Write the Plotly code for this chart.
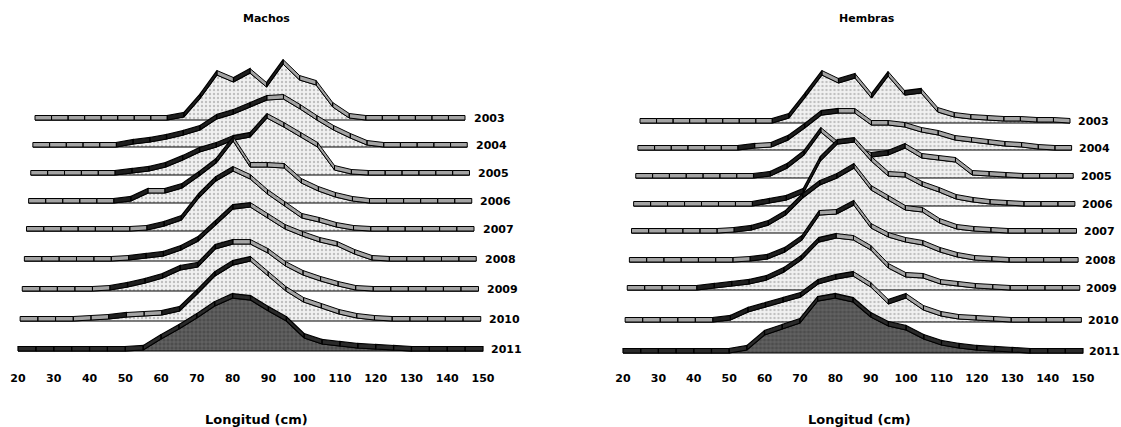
import plotly.graph_objects as go

# ---------------- data ----------------
lengths = list(range(20, 155, 5))          # Longitud (cm), 5 cm classes
years = ["2003", "2004", "2005", "2006", "2007", "2008", "2009", "2010", "2011"]
tick_values = list(range(20, 160, 10))

# relative frequency (%) by length class, Machos
machos_2003 = [0, 0, 0, 0, 0, 0, 0, 0, 0, 0.9, 6.6, 13.5, 11.4, 14.1, 9.9, 16.8, 12.0, 10.5, 3.9, 0.6, 0, 0, 0, 0, 0, 0, 0]
machos_2004 = [0, 0, 0, 0, 0, 0, 0.9, 1.5, 2.4, 3.6, 5.1, 8.4, 9.9, 12.0, 14.1, 14.4, 11.4, 8.1, 5.1, 2.7, 0.6, 0, 0, 0, 0, 0, 0]
machos_2005 = [0, 0, 0, 0, 0, 0, 0.6, 1.2, 2.4, 4.5, 6.9, 8.4, 10.5, 11.4, 17.1, 14.4, 11.4, 8.4, 1.5, 0.3, 0, 0, 0, 0, 0, 0, 0]
machos_2006 = [0, 0, 0, 0, 0, 0, 0.6, 3.0, 3.0, 4.5, 8.1, 12.0, 18.6, 10.8, 10.8, 10.5, 6.0, 3.6, 1.8, 0.6, 0, 0, 0, 0, 0, 0, 0]
machos_2007 = [0, 0, 0, 0, 0, 0, 0, 0.3, 1.5, 3.3, 9.9, 15.0, 18.0, 15.6, 11.1, 7.5, 3.9, 2.7, 1.2, 0.3, 0, 0, 0, 0, 0, 0, 0]
machos_2008 = [0, 0, 0, 0, 0, 0, 0.3, 0.9, 1.5, 3.3, 6.0, 10.8, 15.6, 16.2, 12.9, 9.6, 7.5, 5.7, 4.5, 2.1, 0.3, 0, 0, 0, 0, 0, 0]
machos_2009 = [0, 0, 0, 0, 0, 0.3, 1.2, 2.4, 3.9, 6.3, 7.2, 12.6, 14.1, 14.1, 11.4, 7.5, 4.8, 3.0, 1.5, 0.3, 0, 0, 0, 0, 0, 0, 0]
machos_2010 = [0, 0, 0, 0, 0.3, 0.6, 1.2, 1.5, 1.8, 3.0, 8.1, 13.5, 16.8, 18.0, 13.5, 9.0, 5.7, 3.9, 2.1, 0.9, 0.3, 0, 0, 0, 0, 0, 0]
machos_2011 = [0, 0, 0, 0, 0, 0, 0, 0.3, 3.6, 6.6, 9.9, 13.5, 15.9, 15.3, 12.0, 9.0, 3.9, 2.1, 1.5, 0.9, 0.6, 0.3, 0, 0, 0, 0, 0]

# relative frequency (%) by length class, Hembras
hembras_2003 = [0, 0, 0, 0, 0, 0, 0, 0, 0, 1.5, 7.8, 14.4, 12.0, 13.5, 7.5, 14.1, 8.4, 9.0, 3.3, 1.8, 1.2, 0.9, 0.6, 0.6, 0.3, 0.3, 0]
hembras_2004 = [0, 0, 0, 0, 0, 0, 0, 0.6, 0.9, 3.0, 6.6, 10.5, 11.1, 11.1, 7.5, 7.5, 6.9, 5.4, 4.5, 3.0, 2.4, 1.8, 1.2, 0.9, 0.3, 0, 0]
hembras_2005 = [0, 0, 0, 0, 0, 0, 0, 0, 0.6, 3.0, 6.9, 13.8, 9.6, 7.8, 6.3, 6.9, 9.0, 6.0, 5.4, 4.8, 0.9, 0.6, 0.3, 0, 0, 0, 0]
hembras_2006 = [0, 0, 0, 0, 0, 0, 0, 0, 0.9, 1.8, 3.9, 13.5, 18.6, 19.2, 13.5, 9.0, 8.7, 6.0, 4.2, 2.1, 1.2, 0.6, 0.3, 0, 0, 0, 0]
hembras_2007 = [0, 0, 0, 0, 0, 0, 0.3, 0.9, 2.4, 5.4, 10.5, 14.4, 16.5, 19.5, 12.9, 9.9, 6.9, 6.3, 3.0, 1.2, 0.6, 0.3, 0, 0, 0, 0, 0]
hembras_2008 = [0, 0, 0, 0, 0, 0, 0, 0.3, 0.9, 3.0, 6.6, 14.1, 14.4, 17.1, 10.2, 7.5, 6.0, 5.1, 3.0, 1.5, 0.6, 0.3, 0, 0, 0, 0, 0]
hembras_2009 = [0, 0, 0, 0, 0, 0.6, 1.2, 1.8, 3.0, 5.4, 9.0, 14.4, 15.6, 15.0, 12.0, 6.6, 3.9, 3.6, 1.8, 1.2, 0.6, 0.3, 0, 0, 0, 0, 0]
hembras_2010 = [0, 0, 0, 0, 0, 0, 0.6, 3.0, 4.5, 6.0, 7.5, 11.4, 12.9, 13.8, 10.5, 5.4, 7.2, 3.6, 1.8, 0.9, 0.6, 0.3, 0, 0, 0, 0, 0]
hembras_2011 = [0, 0, 0, 0, 0, 0, 0, 0.9, 5.4, 7.2, 9.0, 15.6, 16.5, 15.3, 10.8, 8.1, 6.9, 4.2, 2.4, 1.5, 0.9, 0.6, 0.3, 0, 0, 0, 0]

machos = [machos_2003, machos_2004, machos_2005, machos_2006, machos_2007,
          machos_2008, machos_2009, machos_2010, machos_2011]
hembras = [hembras_2003, hembras_2004, hembras_2005, hembras_2006, hembras_2007,
           hembras_2008, hembras_2009, hembras_2010, hembras_2011]

# ---------------- layout constants ----------------
W, H = 1121, 427
PLOT_BOTTOM = 370      # px from top where the x axes sit
S = 3.33               # px per percentage point
DEPTH = 4.5            # px, depth of the 3-D ribbon
FONT = "DejaVu Sans"

panels = [
    dict(title="Machos", data=machos, xa="x", ya="y", xaxis="xaxis", yaxis="yaxis",
         dom=(0.0, 0.5), front=(18, 483), back=(35, 465),
         base_px=[120, 147, 175, 203, 231, 261, 291, 321, 351],
         lab_front=489, lab_back=472, title_L=89.5, xlab_L=86.8),
    dict(title="Hembras", data=hembras, xa="x2", ya="y2", xaxis="xaxis2", yaxis="yaxis2",
         dom=(0.5, 1.0), front=(623, 1083), back=(640, 1070),
         base_px=[123, 150, 178, 206, 233, 262, 290, 322, 353],
         lab_front=1087, lab_back=1076, title_L=89.0, xlab_L=86.8),
]

face_pattern = dict(shape=".", bgcolor="#f1f1f1", fgcolor="#8c8c8c", size=4, solidity=0.28)
front_pattern = dict(shape="+", bgcolor="#4d4d4d", fgcolor="#a0a0a0", size=4, solidity=0.25)

fig = go.Figure()
annotations = []
layout_axes = {}

for p in panels:
    fl, fr = p["front"]
    bl, br = p["back"]
    ppu = (fr - fl) / 130.0               # px per cm on the front row (= axis scale)
    x0_px = p["dom"][0] * W
    x1_px = p["dom"][1] * W
    xrange_ = [20 + (x0_px - fl) / ppu, 20 + (x1_px - fl) / ppu]
    yrange_ = [0, PLOT_BOTTOM / S]
    n_rows = len(years)

    def px_to_x(px):
        return 20 + (px - fl) / ppu

    for i, (yr, vals) in enumerate(zip(years, p["data"])):
        t = (n_rows - 1 - i) / (n_rows - 1)   # 1 = back row, 0 = front row
        left = fl + t * (bl - fl)
        right = fr + t * (br - fr)
        base = (PLOT_BOTTOM - p["base_px"][i]) / S
        xs = [px_to_x(left + (L - 20) * (right - left) / 130.0) for L in lengths]
        ys = [base + v for v in vals]
        is_front = (i == n_rows - 1)

        # front face of the area
        fig.add_trace(go.Scatter(
            x=xs + [xs[-1], xs[0]], y=ys + [base, base],
            xaxis=p["xa"], yaxis=p["ya"], mode="lines", fill="toself",
            fillpattern=front_pattern if is_front else face_pattern,
            line=dict(color="#000000", width=1),
            hoverinfo="skip", showlegend=False))

        # top ribbon (3-D depth), split into rising (dark) and other (grey) segments
        dy = DEPTH / S
        rx_d, ry_d, rx_g, ry_g = [], [], [], []
        for j in range(len(xs) - 1):
            qx = [xs[j], xs[j + 1], xs[j + 1], xs[j], xs[j], None]
            qy = [ys[j], ys[j + 1], ys[j + 1] + dy, ys[j] + dy, ys[j], None]
            if is_front or vals[j + 1] > vals[j] + 0.5:
                rx_d += qx; ry_d += qy
            else:
                rx_g += qx; ry_g += qy
        if rx_g:
            fig.add_trace(go.Scatter(
                x=rx_g, y=ry_g, xaxis=p["xa"], yaxis=p["ya"], mode="lines",
                fill="toself", fillcolor="#a3a3a3",
                line=dict(color="#000000", width=1),
                hoverinfo="skip", showlegend=False))
        if rx_d:
            fig.add_trace(go.Scatter(
                x=rx_d, y=ry_d, xaxis=p["xa"], yaxis=p["ya"], mode="lines",
                fill="toself", fillcolor="#1e1e1e" if not is_front else "#2a2a2a",
                line=dict(color="#000000", width=1.2),
                hoverinfo="skip", showlegend=False))

        # year label
        lab_px = p["lab_front"] + t * (p["lab_back"] - p["lab_front"])
        annotations.append(dict(
            x=px_to_x(lab_px), y=base + 2.0 / S, xref=p["xa"], yref=p["ya"],
            text=f"<b>{yr}</b>", showarrow=False, xanchor="left", yanchor="middle",
            font=dict(family=FONT, size=11, color="#000000")))

    # panel title and axis label
    annotations.append(dict(
        x=p["title_L"], y=1 - 18 / H, xref=p["xa"], yref="paper",
        text=f"<b>{p['title']}</b>", showarrow=False, xanchor="center", yanchor="middle",
        font=dict(family=FONT, size=11, color="#000000")))
    annotations.append(dict(
        x=p["xlab_L"], y=1 - 419 / H, xref=p["xa"], yref="paper",
        text="<b>Longitud (cm)</b>", showarrow=False, xanchor="center", yanchor="middle",
        font=dict(family=FONT, size=13, color="#000000")))

    layout_axes[p["xaxis"]] = dict(
        domain=list(p["dom"]), range=xrange_, anchor=p["ya"],
        tickmode="array", tickvals=tick_values, ticktext=[str(v) for v in tick_values],
        ticks="", showline=False, showgrid=False, zeroline=False,
        tickfont=dict(family=FONT, size=11, color="#000000", weight="bold"),
        fixedrange=True)
    layout_axes[p["yaxis"]] = dict(
        domain=[1 - PLOT_BOTTOM / H, 1], range=yrange_, anchor=p["xa"],
        visible=False, showgrid=False, zeroline=False, fixedrange=True)

fig.update_layout(
    width=W, height=H,
    margin=dict(l=0, r=0, t=0, b=0),
    paper_bgcolor="#ffffff", plot_bgcolor="#ffffff",
    annotations=annotations,
    **layout_axes)

fig.write_html("out.html")
